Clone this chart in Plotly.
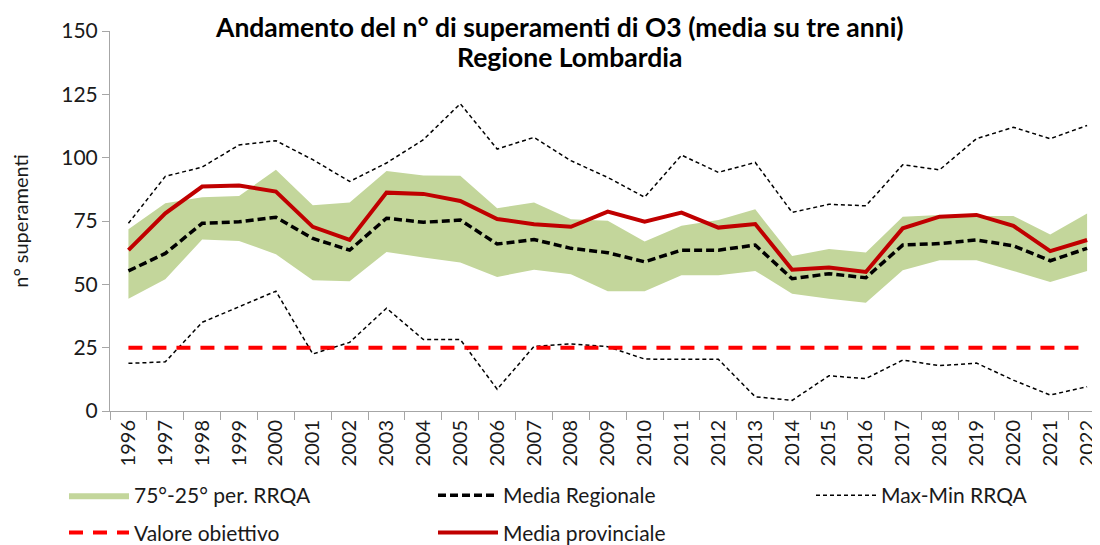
import plotly.graph_objects as go

# anni
anni = [str(a) for a in range(1996, 2023)]

# 75° e 25° percentile RRQA
perc75 = [71.7, 82.0, 84.4, 84.9, 95.2, 81.2, 82.3, 94.7, 93.0, 92.9, 80.0, 82.3, 75.7, 75.1,
          66.9, 73.1, 75.4, 79.6, 61.2, 63.9, 62.6, 76.7, 77.4, 77.0, 77.0, 69.7, 78.0]
perc25 = [44.3, 52.0, 67.7, 67.1, 61.9, 51.6, 51.2, 62.8, 60.6, 58.6, 52.9, 55.8, 54.0, 47.3,
          47.3, 53.6, 53.6, 55.3, 46.3, 44.3, 42.7, 55.6, 59.5, 59.5, 55.3, 50.9, 55.3]

# massimo e minimo RRQA
massimo = [74.1, 92.6, 96.3, 105.0, 106.7, 99.2, 90.6, 97.9, 107.1, 121.3, 103.4, 108.0, 98.8, 92.2,
           84.4, 101.0, 94.2, 98.1, 78.4, 81.6, 81.0, 97.2, 95.2, 107.5, 112.0, 107.5, 112.7]
minimo = [18.8, 19.4, 35.0, 41.0, 47.3, 22.5, 27.1, 40.6, 28.2, 28.2, 8.6, 25.5, 26.5, 25.4,
          20.5, 20.4, 20.4, 5.6, 4.2, 13.9, 12.8, 20.1, 17.9, 18.9, 12.2, 6.3, 9.6]

# medie
media_regionale = [55.3, 62.2, 74.1, 74.7, 76.5, 68.1, 63.5, 76.1, 74.5, 75.4, 65.9, 67.7, 64.2, 62.5,
                   58.9, 63.5, 63.5, 65.5, 52.2, 54.2, 52.6, 65.5, 66.1, 67.5, 65.2, 59.3, 64.2]
media_provinciale = [63.5, 78.0, 88.6, 89.0, 86.6, 72.7, 67.5, 86.2, 85.7, 82.9, 75.8, 73.7, 72.7, 78.7,
                     74.7, 78.3, 72.4, 73.8, 55.8, 56.6, 54.9, 72.1, 76.7, 77.4, 73.1, 63.1, 67.5]

# valore obiettivo
valore_obiettivo = [25] * len(anni)

titolo = ["Andamento del n° di superamenti di O3 (media su tre anni)", "Regione Lombardia"]

FONT = "Lato"

fig = go.Figure()

# fascia 75°-25°
fig.add_trace(go.Scatter(x=anni, y=perc25, mode="lines", line=dict(width=0, color="#c3d69b"),
                         showlegend=False, hoverinfo="skip"))
fig.add_trace(go.Scatter(x=anni, y=perc75, mode="lines", fill="tonexty", fillcolor="#c3d69b",
                         line=dict(width=0, color="#c3d69b"), name="75°-25° per. RRQA",
                         legend="legend", legendgroup="a"))

# max-min
fig.add_trace(go.Scatter(x=anni, y=massimo, mode="lines",
                         line=dict(color="black", width=1.5, dash="4px,3px"),
                         name="Max-Min RRQA", legend="legend3", legendgroup="e"))
fig.add_trace(go.Scatter(x=anni, y=minimo, mode="lines",
                         line=dict(color="black", width=1.5, dash="4px,3px"),
                         showlegend=False, legend="legend3", legendgroup="e"))

# valore obiettivo
fig.add_trace(go.Scatter(x=anni, y=valore_obiettivo, mode="lines",
                         line=dict(color="#ff0000", width=4, dash="14px,10px"),
                         name="Valore obiettivo", legend="legend", legendgroup="b"))

# media regionale
fig.add_trace(go.Scatter(x=anni, y=media_regionale, mode="lines",
                         line=dict(color="black", width=3.5, dash="8px,4px"),
                         name="Media Regionale", legend="legend2", legendgroup="c"))

# media provinciale
fig.add_trace(go.Scatter(x=anni, y=media_provinciale, mode="lines",
                         line=dict(color="#c00000", width=4),
                         name="Media provinciale", legend="legend2", legendgroup="d"))

# titolo su due righe
for riga, xpos, ypos in zip(titolo, [0.4545, 0.4646], [1.0105, 0.9316]):
    fig.add_annotation(text="<b>" + riga + "</b>", xref="paper", yref="paper",
                       x=xpos, y=ypos, xanchor="center", yanchor="middle",
                       showarrow=False, font=dict(family=FONT, size=26.5, color="black"))

# la pagina ha un margine di 8px: la figura parte da (8, 8)
W, H = 1092, 552
L, T, BOTTOM = 102, 23, 403
B = H - BOTTOM
PW, PH = W - L, BOTTOM - T

legenda = dict(orientation="v", xref="paper", yref="paper", y=(BOTTOM - 467) / PH,
               xanchor="left", yanchor="top", traceorder="grouped", tracegroupgap=7,
               itemwidth=60, font=dict(size=21), bgcolor="rgba(0,0,0,0)")

fig.update_layout(
    width=W, height=H,
    margin=dict(l=L, r=0, t=T, b=B),
    paper_bgcolor="white", plot_bgcolor="white",
    font=dict(family=FONT, size=20, color="#1a1a1a"),
    xaxis=dict(
        type="category", range=[-0.5, 26.35], automargin=False,
        tickangle=-90, tickson="boundaries",
        showline=True, linecolor="#a6a6a6", linewidth=1,
        ticks="outside", ticklen=8, tickcolor="#a6a6a6",
        showgrid=False, zeroline=False,
        tickfont=dict(size=20),
    ),
    yaxis=dict(
        range=[0, 150], tickvals=[0, 25, 50, 75, 100, 125, 150], automargin=False,
        showline=True, linecolor="#a6a6a6", linewidth=1,
        ticks="outside", ticklen=7, tickcolor="#a6a6a6",
        showgrid=False, zeroline=False,
        tickfont=dict(size=21),
        title=dict(text="n° superamenti", font=dict(size=20), standoff=32),
    ),
    legend=dict(legenda, x=(56 - L) / PW),
    legend2=dict(legenda, x=(425 - L) / PW),
    legend3=dict(legenda, x=(803 - L) / PW),
)

fig.write_html("out.html")
